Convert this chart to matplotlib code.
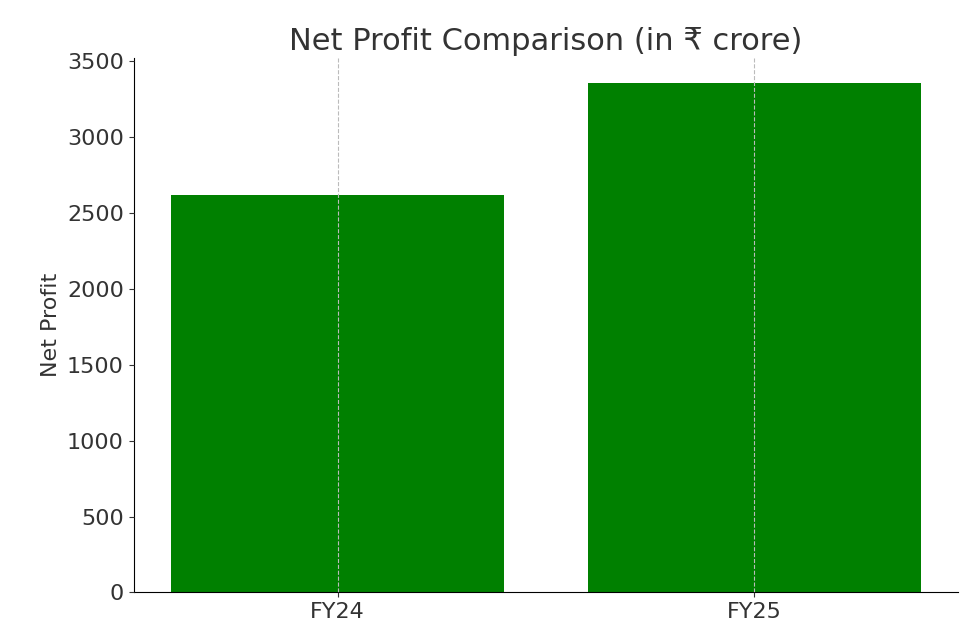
import matplotlib
matplotlib.use("Agg")
import matplotlib.pyplot as plt

categories = ["FY24", "FY25"]
net_profit = [2620, 3355]

plt.rcParams['font.family'] = ['DejaVu Sans', 'Noto Sans']
fig, ax = plt.subplots(figsize=(9.75, 6.44), dpi=100)
fig.subplots_adjust(left=0.137, right=0.983, top=0.91, bottom=0.08)
ax.bar(categories, net_profit, color='green', zorder=2, width=0.8)
ax.set_title("Net Profit Comparison (in ₹ crore)", fontsize=22, color='#333333')
ax.set_ylabel("Net Profit", fontsize=16, color='#333333')
ax.tick_params(labelsize=16, colors='#333333')
ax.grid(axis='x', linestyle='--', color='#bbbbbb', linewidth=0.8, zorder=3)
ax.set_axisbelow(False)
for s in ['top', 'right']:
    ax.spines[s].set_visible(False)
fig.savefig("out.png", dpi=100)
